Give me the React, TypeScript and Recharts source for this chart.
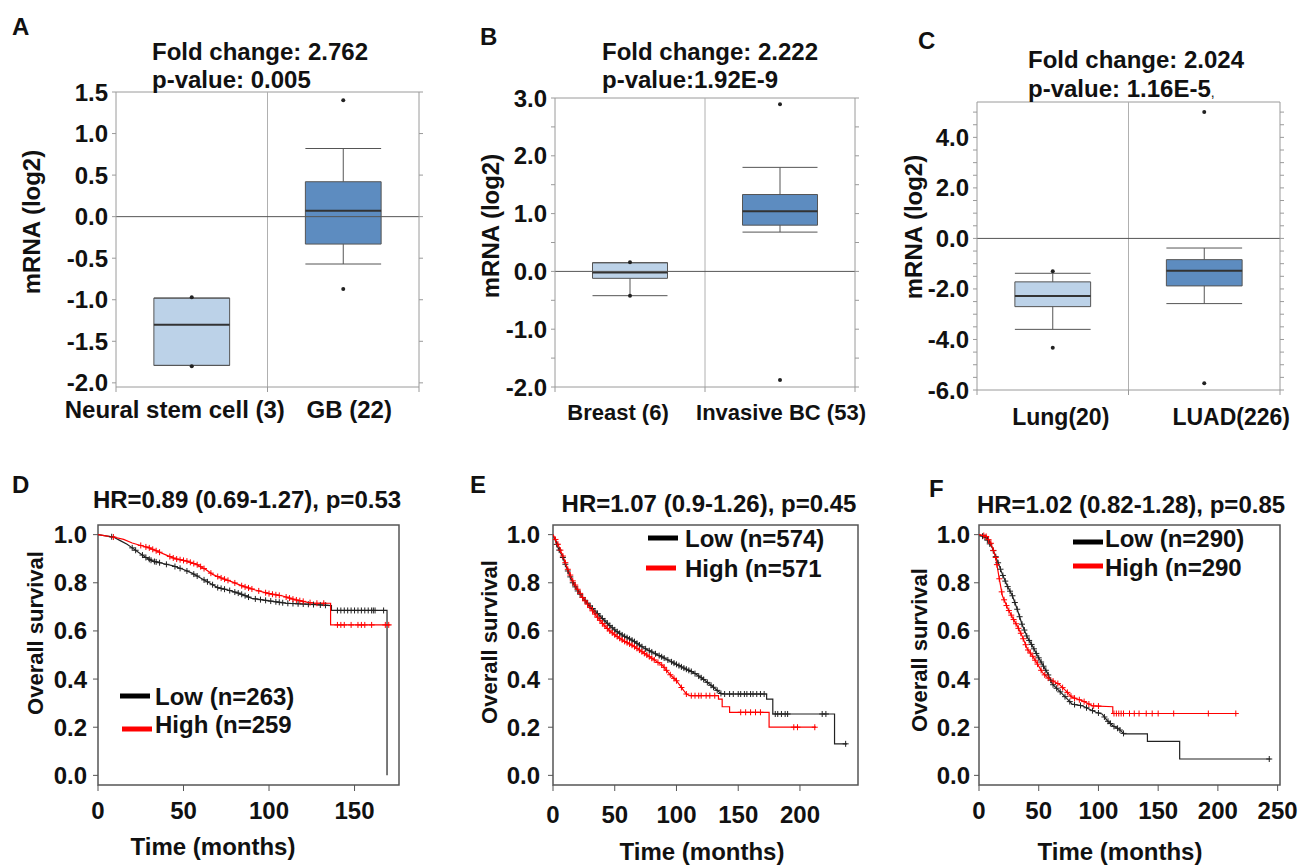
import React from 'react';
import { ComposedChart, XAxis, YAxis, ReferenceArea, ReferenceLine, Scatter, Line } from 'recharts';

const FONT = '"Liberation Sans", Arial, Helvetica, sans-serif';
const AX = '#9a9a9a';
const KAX = '#555555';
const LIGHT = '#bcd2e8';
const DARK = '#5d8cc0';
const RED = '#ff0000';
const BLACK = '#222222';

// ---------- Box plot data ----------
const groupsA = ['Neural stem cell (3)', 'GB (22)'];
const q1A = [-1.79, -0.33];
const medA = [-1.3, 0.07];
const q3A = [-0.98, 0.42];
const loA = [-1.79, -0.57];
const hiA = [-0.98, 0.82];
const outA = [[-0.97, -1.8], [1.4, -0.87]];
const ticksA = [-2, -1.5, -1, -0.5, 0, 0.5, 1, 1.5];

const groupsB = ['Breast (6)', 'Invasive BC (53)'];
const q1B = [-0.12, 0.8];
const medB = [-0.02, 1.04];
const q3B = [0.15, 1.33];
const loB = [-0.42, 0.68];
const hiB = [0.15, 1.8];
const outB = [[0.16, -0.42], [2.89, -1.88]];
const ticksB = [-2, -1.5, -1, -0.5, 0, 0.5, 1, 1.5, 2, 2.5, 3];

const groupsC = ['Lung(20)', 'LUAD(226)'];
const q1C = [-2.7, -1.88];
const medC = [-2.28, -1.28];
const q3C = [-1.72, -0.84];
const loC = [-3.6, -2.58];
const hiC = [-1.38, -0.38];
const outC = [[-1.3, -4.33], [5.0, -5.73]];
const ticksC = [-6, -5.5, -5, -4.5, -4, -3.5, -3, -2.5, -2, -1.5, -1, -0.5, 0, 0.5, 1, 1.5, 2, 2.5, 3, 3.5, 4, 4.5, 5];

// ---------- KM data (time in months, survival); repeated times are vertical drops ----------
const dLowT = [0, 9, 13, 17, 20, 24, 28, 32, 38, 44, 50, 55, 60, 65, 70, 76, 83, 90, 100, 110, 125, 136.5, 136.5, 169, 169];
const dLowS = [1.0, 0.99, 0.975, 0.96, 0.945, 0.925, 0.905, 0.89, 0.88, 0.87, 0.855, 0.84, 0.82, 0.8, 0.78, 0.77, 0.755, 0.735, 0.725, 0.715, 0.71, 0.705, 0.685, 0.685, 0.0];
const dHighT = [0, 9, 15, 20, 25, 30, 35, 40, 45, 52, 58, 63, 67, 72, 78, 85, 92, 100, 108, 115, 122, 126, 136, 136, 171];
const dHighS = [1.0, 0.99, 0.98, 0.965, 0.955, 0.945, 0.93, 0.915, 0.9, 0.89, 0.875, 0.855, 0.835, 0.82, 0.805, 0.785, 0.77, 0.755, 0.745, 0.73, 0.72, 0.715, 0.715, 0.625, 0.625];
const dLowCens = [8, 20, 22, 26, 28, 30, 31, 33, 34, 36, 40, 45, 48, 52, 56, 58, 62, 64, 67, 70, 72, 74, 77, 80, 82, 84, 86, 88, 92, 95, 98, 101, 104, 106, 108, 111, 114, 117, 120, 123, 126, 130, 133, 140, 142, 144, 146, 148, 150, 152, 154, 156, 158, 160, 161, 162, 167];
const dHighCens = [9, 25, 28, 30, 32, 34, 36, 42, 44, 46, 48, 50, 52, 54, 56, 58, 60, 62, 66, 70, 72, 74, 76, 80, 84, 86, 88, 90, 94, 98, 100, 102, 104, 106, 110, 112, 114, 116, 118, 120, 124, 128, 132, 140, 142, 144, 148, 152, 154, 156, 160, 168, 170];

const eLowT = [0, 4, 8, 12, 16, 20, 24, 30, 35, 40.5, 46, 51, 57, 65, 73, 81, 89, 97, 105, 113.5, 121.6, 130, 136.5, 173, 173, 178, 178, 228, 228, 238];
const eLowS = [1.0, 0.946, 0.905, 0.849, 0.8, 0.766, 0.739, 0.704, 0.677, 0.649, 0.622, 0.6, 0.58, 0.559, 0.531, 0.51, 0.49, 0.469, 0.448, 0.428, 0.4, 0.366, 0.338, 0.338, 0.317, 0.317, 0.255, 0.255, 0.131, 0.131];
const eHighT = [0, 4, 8, 12, 16, 20, 24, 30, 35, 40.5, 46, 51, 57, 65, 73, 81, 89, 94.6, 100, 105, 108, 111, 134, 134, 137, 137, 143, 143, 175, 175, 213];
const eHighS = [1.0, 0.96, 0.911, 0.856, 0.808, 0.773, 0.739, 0.697, 0.663, 0.628, 0.6, 0.58, 0.559, 0.538, 0.51, 0.483, 0.455, 0.42, 0.393, 0.358, 0.338, 0.331, 0.331, 0.317, 0.317, 0.285, 0.285, 0.262, 0.262, 0.2, 0.2];
const eLowCens = [3, 5, 8, 10, 12, 14, 16, 18, 20, 22, 24, 26, 28, 30, 32, 34, 36, 38, 40, 42, 44, 46, 48, 50, 52, 54, 56, 58, 60, 62, 64, 66, 68, 70, 72, 75, 78, 80, 83, 86, 88, 90, 93, 96, 98, 100, 102, 104, 106, 108, 110, 112, 115, 118, 120, 122, 125, 128, 130, 133, 136, 139, 143, 146, 150, 152, 155, 157, 160, 162, 165, 168, 171, 180, 182, 185, 188, 190, 218, 221, 237];
const eHighCens = [2, 4, 6, 8, 10, 12, 14, 16, 18, 20, 22, 24, 26, 28, 30, 32, 34, 36, 38, 40, 42, 44, 46, 48, 50, 52, 54, 56, 58, 60, 62, 64, 66, 68, 70, 72, 74, 76, 78, 80, 82, 85, 88, 90, 92, 95, 98, 100, 104, 108, 112, 115, 118, 120, 124, 127, 131, 152, 156, 160, 164, 168, 195, 198, 212];

const fLowT = [0, 5.6, 11, 15.4, 19.6, 23.7, 28, 32, 36, 40.5, 44.7, 49, 53, 57, 61.5, 67, 72.6, 78, 86.6, 92, 98, 103, 107.5, 112, 117, 121.5, 141, 141, 168, 168, 244];
const fLowS = [1.0, 0.988, 0.946, 0.891, 0.835, 0.787, 0.746, 0.69, 0.628, 0.573, 0.538, 0.497, 0.462, 0.428, 0.379, 0.352, 0.324, 0.296, 0.289, 0.276, 0.262, 0.255, 0.227, 0.206, 0.193, 0.172, 0.172, 0.141, 0.141, 0.068, 0.068];
const fHighT = [0, 5.6, 9.8, 14, 16.8, 19.6, 23.7, 28, 32, 36, 40.5, 44.7, 49, 53, 57, 61.5, 67, 72.6, 78, 86.6, 95, 112, 112, 215];
const fHighS = [1.0, 0.995, 0.967, 0.905, 0.822, 0.746, 0.697, 0.656, 0.621, 0.58, 0.524, 0.497, 0.462, 0.428, 0.407, 0.393, 0.379, 0.352, 0.324, 0.31, 0.289, 0.285, 0.257, 0.257];
const fLowCens = [3, 5, 7, 9, 12, 14, 16, 18, 20, 22, 24, 26, 28, 30, 32, 34, 36, 38, 40, 42, 44, 46, 48, 50, 52, 54, 56, 58, 60, 62, 65, 68, 72, 76, 80, 85, 90, 95, 100, 105, 108, 110, 113, 116, 118, 121, 243];
const fHighCens = [4, 6, 8, 10, 12, 14, 15, 17, 19, 21, 23, 25, 27, 29, 31, 33, 35, 37, 39, 41, 43, 45, 47, 49, 52, 55, 58, 62, 66, 70, 74, 77, 80, 84, 88, 92, 96, 100, 113, 115, 117, 119, 121, 126, 130, 134, 140, 145, 150, 163, 192, 215];

const kmTicksY = [0, 0.2, 0.4, 0.6, 0.8, 1.0];

// ---------- helpers ----------
const toSeries = (t: number[], s: number[]) => t.map((v, i) => ({ t: v, s: s[i] }));
// value of the drawn curve at a censoring time
const curveAt = (t: number[], s: number[], x: number) => {
  for (let i = 0; i < t.length - 1; i++) {
    if (x >= t[i] && x < t[i + 1]) {
      const f = (x - t[i]) / (t[i + 1] - t[i]);
      return s[i] + f * (s[i + 1] - s[i]);
    }
  }
  return s[s.length - 1];
};
const toCens = (t: number[], s: number[], c: number[]) => c.map((x) => ({ t: x, s: curveAt(t, s, x) }));

const tickStyle = (size: number) => ({ fontSize: size, fontWeight: 700, fill: '#111', fontFamily: FONT });

type BoxProps = {
  left: number; width: number; height: number; margin: any; yAxisWidth: number;
  domain: [number, number]; ticks: number[]; labelStep: number;
  groups: string[]; q1: number[]; med: number[]; q3: number[]; lo: number[]; hi: number[]; out: number[][];
  labelDx: number[]; labelDy: number; labelSize: number;
};

const BoxPanel = (p: BoxProps) => {
  const outliers = p.out.flatMap((arr, i) => arr.map((v) => ({ x: i + 0.5, y: v })));
  const fmt = (v: number) => {
    const r = v / p.labelStep;
    return Math.abs(r - Math.round(r)) < 1e-9 ? v.toFixed(1) : '';
  };
  const catTick = (props: any) => {
    const { x, y, payload } = props;
    const v = payload.value;
    if (Number.isInteger(v)) return <line x1={x} y1={y} x2={x} y2={y + 5} stroke={AX} />;
    const i = Math.floor(v);
    return (
      <text x={x + p.labelDx[i]} y={y + p.labelDy} textAnchor="middle" style={tickStyle(p.labelSize)}>
        {p.groups[i]}
      </text>
    );
  };
  const xt: number[] = [];
  for (let i = 0; i <= p.groups.length * 2; i++) xt.push(i / 2);
  return (
    <div style={{ position: 'absolute', left: p.left, top: 0 }}>
      <ComposedChart width={p.width} height={p.height} margin={p.margin}>
        <XAxis xAxisId="x" type="number" dataKey="x" domain={[0, p.groups.length]} ticks={xt} interval={0}
          tickLine={false} tickSize={0} tickMargin={0} axisLine={{ stroke: AX }} tick={catTick} height={40} allowDataOverflow />
        <YAxis yAxisId="y" type="number" dataKey="y" domain={p.domain} ticks={p.ticks} interval={0} width={p.yAxisWidth}
          tickSize={4} tickMargin={4} tickFormatter={fmt} tick={tickStyle(24)} axisLine={{ stroke: AX }} tickLine={{ stroke: AX }} allowDataOverflow />
        <YAxis yAxisId="r" orientation="right" type="number" domain={p.domain} ticks={p.ticks} interval={0} width={10}
          tickSize={4} tickMargin={2} tickFormatter={() => ''} axisLine={{ stroke: AX }} tickLine={{ stroke: AX }} allowDataOverflow />
        <ReferenceLine xAxisId="x" yAxisId="y" y={p.domain[1]} stroke={AX} ifOverflow="visible" />
        <ReferenceLine xAxisId="x" yAxisId="y" x={1} stroke="#b0b0b0" ifOverflow="visible" />
        {p.groups.map((g, i) => (
          <ReferenceArea key={'b' + i} xAxisId="x" yAxisId="y" x1={i + 0.25} x2={i + 0.75} y1={p.q1[i]} y2={p.q3[i]}
            fill={i === 0 ? LIGHT : DARK} fillOpacity={1} stroke="#555" strokeWidth={1} ifOverflow="visible" />
        ))}
        {p.groups.map((g, i) => (
          <ReferenceLine key={'wu' + i} xAxisId="x" yAxisId="y" segment={[{ x: i + 0.5, y: p.q3[i] }, { x: i + 0.5, y: p.hi[i] }]} stroke="#555" ifOverflow="visible" />
        ))}
        {p.groups.map((g, i) => (
          <ReferenceLine key={'wl' + i} xAxisId="x" yAxisId="y" segment={[{ x: i + 0.5, y: p.q1[i] }, { x: i + 0.5, y: p.lo[i] }]} stroke="#555" ifOverflow="visible" />
        ))}
        {p.groups.map((g, i) => (
          <ReferenceLine key={'cu' + i} xAxisId="x" yAxisId="y" segment={[{ x: i + 0.25, y: p.hi[i] }, { x: i + 0.75, y: p.hi[i] }]} stroke="#555" ifOverflow="visible" />
        ))}
        {p.groups.map((g, i) => (
          <ReferenceLine key={'cl' + i} xAxisId="x" yAxisId="y" segment={[{ x: i + 0.25, y: p.lo[i] }, { x: i + 0.75, y: p.lo[i] }]} stroke="#555" ifOverflow="visible" />
        ))}
        {p.groups.map((g, i) => (
          <ReferenceLine key={'m' + i} xAxisId="x" yAxisId="y" segment={[{ x: i + 0.25, y: p.med[i] }, { x: i + 0.75, y: p.med[i] }]} stroke="#333" strokeWidth={2} ifOverflow="visible" />
        ))}
        <ReferenceLine xAxisId="x" yAxisId="y" y={0} stroke="#555" ifOverflow="visible" />
        <Scatter xAxisId="x" yAxisId="y" data={outliers} isAnimationActive={false}
          shape={(s: any) => <circle cx={s.cx} cy={s.cy} r={2} fill="#222" />} />
      </ComposedChart>
    </div>
  );
};

type KMProps = {
  left: number; width: number; xDomain: [number, number]; xTicks: number[]; yAxisWidth: number; marginRight: number;
  yTickMargin: number; xTickMargin: number;
  lowT: number[]; lowS: number[]; lowC: number[]; highT: number[]; highS: number[]; highC: number[];
};

const plus = (color: string) => (s: any) => (
  <path d={`M${s.cx - 3},${s.cy}h6M${s.cx},${s.cy - 3}v6`} stroke={color} strokeWidth={1} fill="none" />
);

const KMPanel = (p: KMProps) => {
  const yDom: [number, number] = [-0.04, 1.04];
  return (
    <div style={{ position: 'absolute', left: p.left, top: 460 }}>
      <ComposedChart width={p.width} height={405} margin={{ top: 65, right: p.marginRight, bottom: 40, left: 0 }}>
        <XAxis type="number" dataKey="t" domain={p.xDomain} ticks={p.xTicks} interval={0} tickSize={6} tickMargin={p.xTickMargin}
          height={40} axisLine={false} tickLine={{ stroke: KAX }} tick={tickStyle(24)} allowDataOverflow />
        <YAxis type="number" dataKey="s" domain={yDom} ticks={kmTicksY} interval={0} width={p.yAxisWidth} tickSize={5}
          tickMargin={p.yTickMargin} tickFormatter={(v: number) => v.toFixed(1)} axisLine={false} tickLine={{ stroke: KAX }}
          tick={tickStyle(24)} allowDataOverflow />
        <ReferenceArea x1={p.xDomain[0]} x2={p.xDomain[1]} y1={yDom[0]} y2={yDom[1]} fill="none" stroke={KAX} strokeWidth={1.5} ifOverflow="visible" />
        <Line data={toSeries(p.lowT, p.lowS)} dataKey="s" type="linear" stroke={BLACK} strokeWidth={1.2} dot={false} isAnimationActive={false} />
        <Line data={toSeries(p.highT, p.highS)} dataKey="s" type="linear" stroke={RED} strokeWidth={1.2} dot={false} isAnimationActive={false} />
        <Scatter data={toCens(p.lowT, p.lowS, p.lowC)} dataKey="s" shape={plus(BLACK)} isAnimationActive={false} />
        <Scatter data={toCens(p.highT, p.highS, p.highC)} dataKey="s" shape={plus(RED)} isAnimationActive={false} />
      </ComposedChart>
    </div>
  );
};

const txt = (x: number, y: number, s: string, size: number, anchor: string = 'start', rotate = false) => (
  <text key={s + x + y} x={rotate ? 0 : x} y={rotate ? 0 : y} textAnchor={anchor as any}
    transform={rotate ? `translate(${x},${y}) rotate(-90)` : undefined}
    style={{ fontFamily: FONT, fontWeight: 700, fontSize: size, fill: '#111' }}>{s}</text>
);

export default function App() {
  return (
    <div style={{ position: 'absolute', left: 0, top: 0, width: 1302, height: 865, background: '#fff', overflow: 'hidden' }}>
      <BoxPanel left={0} width={440} height={440} margin={{ top: 92, right: 11, bottom: 13, left: 0 }} yAxisWidth={116}
        domain={[-2.05, 1.5]} ticks={ticksA} labelStep={0.5} groups={groupsA} q1={q1A} med={medA} q3={q3A} lo={loA} hi={hiA} out={outA}
        labelDx={[-17, 6]} labelDy={31} labelSize={24} />
      <BoxPanel left={440} width={440} height={440} margin={{ top: 98, right: 15, bottom: 13, left: 0 }} yAxisWidth={115}
        domain={[-2, 3]} ticks={ticksB} labelStep={1} groups={groupsB} q1={q1B} med={medB} q3={q3B} lo={loB} hi={hiB} out={outB}
        labelDx={[-12, 1]} labelDy={33} labelSize={22} />
      <BoxPanel left={880} width={422} height={440} margin={{ top: 102, right: 12, bottom: 10, left: 0 }} yAxisWidth={97}
        domain={[-6, 5.4]} ticks={ticksC} labelStep={2} groups={groupsC} q1={q1C} med={medC} q3={q3C} lo={loC} hi={hiC} out={outC}
        labelDx={[8, 27]} labelDy={35} labelSize={23} />

      <KMPanel left={0} width={440} xDomain={[0, 176]} xTicks={[0, 50, 100, 150]} yAxisWidth={98} marginRight={41}
        yTickMargin={6} xTickMargin={11} lowT={dLowT} lowS={dLowS} lowC={dLowCens} highT={dHighT} highS={dHighS} highC={dHighCens} />
      <KMPanel left={440} width={440} xDomain={[0, 247]} xTicks={[0, 50, 100, 150, 200]} yAxisWidth={113} marginRight={22}
        yTickMargin={8} xTickMargin={15} lowT={eLowT} lowS={eLowS} lowC={eLowCens} highT={eHighT} highS={eHighS} highC={eHighCens} />
      <KMPanel left={880} width={422} xDomain={[0, 252]} xTicks={[0, 50, 100, 150, 200, 250]} yAxisWidth={99} marginRight={22}
        yTickMargin={4} xTickMargin={11} lowT={fLowT} lowS={fLowS} lowC={fLowCens} highT={fHighT} highS={fHighS} highC={fHighCens} />

      <svg width={1302} height={865} style={{ position: 'absolute', left: 0, top: 0, pointerEvents: 'none' }}>
        {txt(12, 35, 'A', 24)}
        {txt(480, 45, 'B', 24)}
        {txt(918, 49, 'C', 24)}
        {txt(12, 493, 'D', 24)}
        {txt(470, 493, 'E', 24)}
        {txt(929, 497, 'F', 24)}

        {txt(152, 60, 'Fold change: 2.762', 24)}
        {txt(152, 88, 'p-value: 0.005', 24)}
        {txt(602, 60, 'Fold change: 2.222', 24)}
        {txt(602, 88, 'p-value:1.92E-9', 24)}
        {txt(1028, 68, 'Fold change: 2.024', 24)}
        <text x={1028} y={97} style={{ fontFamily: FONT, fontWeight: 700, fontSize: 24, fill: '#111' }}>
          p-value: 1.16E-5<tspan style={{ fontSize: 14, fontWeight: 400 }}>,</tspan>
        </text>

        {txt(40, 222, 'mRNA (log2)', 24, 'middle', true)}
        {txt(499, 226, 'mRNA (log2)', 24, 'middle', true)}
        {txt(922, 227, 'mRNA (log2)', 24, 'middle', true)}

        {txt(247, 508, 'HR=0.89 (0.69-1.27), p=0.53', 24, 'middle')}
        {txt(709, 512, 'HR=1.07 (0.9-1.26), p=0.45', 24, 'middle')}
        {txt(1131, 513, 'HR=1.02 (0.82-1.28), p=0.85', 24, 'middle')}

        {txt(43, 633, 'Overall survival', 22, 'middle', true)}
        {txt(497, 642, 'Overall survival', 22, 'middle', true)}
        {txt(927, 650, 'Overall survival', 22, 'middle', true)}

        {txt(213, 855, 'Time (months)', 24, 'middle')}
        {txt(702, 860, 'Time (months)', 24, 'middle')}
        {txt(1120, 860, 'Time (months)', 24, 'middle')}

        <line x1={120} y1={696} x2={150} y2={696} stroke="#000" strokeWidth={5} />
        {txt(155, 705, 'Low (n=263)', 24)}
        <line x1={122} y1={729} x2={152} y2={729} stroke={RED} strokeWidth={5} />
        {txt(155, 733, 'High (n=259', 24)}

        <line x1={648} y1={538} x2={678} y2={538} stroke="#000" strokeWidth={5} />
        {txt(685, 547, 'Low (n=574)', 24)}
        <line x1={646} y1={568} x2={676} y2={568} stroke={RED} strokeWidth={5} />
        {txt(685, 577, 'High (n=571', 24)}

        <line x1={1073} y1={542} x2={1103} y2={542} stroke="#000" strokeWidth={5} />
        {txt(1105, 547, 'Low (n=290)', 24)}
        <line x1={1073} y1={566} x2={1103} y2={566} stroke={RED} strokeWidth={5} />
        {txt(1105, 576, 'High (n=290', 24)}
      </svg>
    </div>
  );
}
